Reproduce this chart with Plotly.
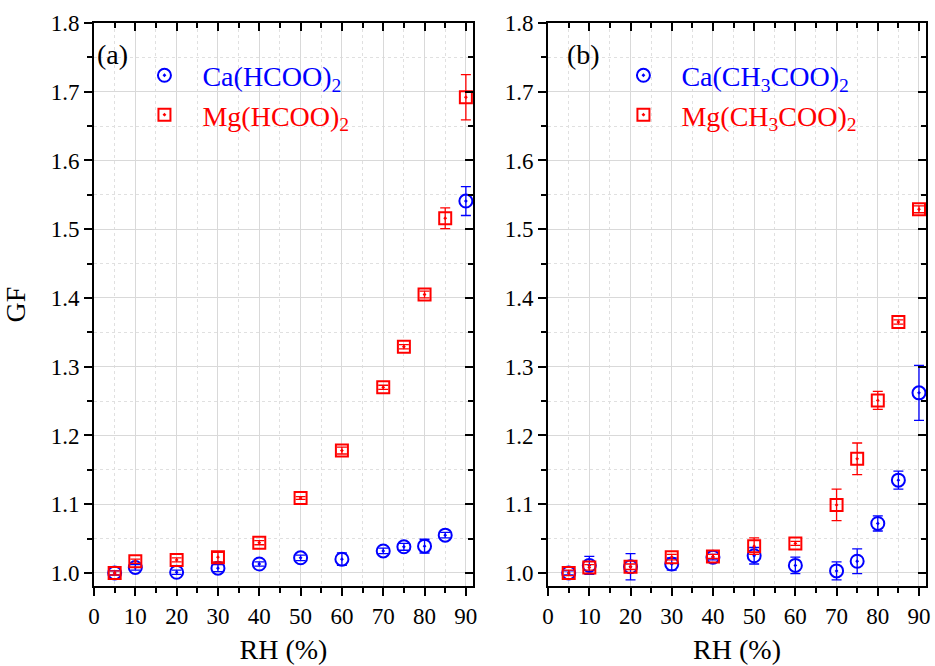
import plotly.graph_objects as go

# ---------------- data ----------------
rh = [5, 10, 20, 30, 40, 50, 60, 70, 75, 80, 85, 90]

# panel (a)
ca_hcoo = [1.000, 1.008, 1.001, 1.007, 1.013, 1.022, 1.020, 1.032, 1.038, 1.039, 1.055, 1.541]
ca_hcoo_err = [0.003, 0.004, 0.003, 0.005, 0.003, 0.004, 0.009, 0.004, 0.005, 0.010, 0.004, 0.021]
mg_hcoo = [1.000, 1.017, 1.019, 1.023, 1.044, 1.109, 1.178, 1.270, 1.329, 1.405, 1.516, 1.692]
mg_hcoo_err = [0.003, 0.003, 0.003, 0.007, 0.003, 0.002, 0.005, 0.003, 0.003, 0.005, 0.015, 0.033]

# panel (b)
ca_ac = [1.000, 1.011, 1.009, 1.013, 1.023, 1.025, 1.011, 1.003, 1.017, 1.072, 1.135, 1.262]
ca_ac_err = [0.003, 0.013, 0.019, 0.009, 0.004, 0.012, 0.012, 0.013, 0.018, 0.011, 0.013, 0.040]
mg_ac = [1.000, 1.008, 1.009, 1.023, 1.024, 1.039, 1.043, 1.099, 1.166, 1.251, 1.365, 1.529]
mg_ac_err = [0.004, 0.004, 0.004, 0.004, 0.003, 0.012, 0.003, 0.023, 0.023, 0.013, 0.003, 0.005]

x_ticks = [0, 10, 20, 30, 40, 50, 60, 70, 80, 90]
y_ticks = [1.0, 1.1, 1.2, 1.3, 1.4, 1.5, 1.6, 1.7, 1.8]
x_range = [0, 91.7]
y_range = [0.981, 1.8]

FONT = "Liberation Serif"
BLUE = "#0000ff"
RED = "#ff0000"

fig = go.Figure()


def add_series(x, y, err, name, color, symbol, size, xa, ya, legend):
    fig.add_trace(go.Scatter(
        x=x, y=y, mode="markers", name=name,
        xaxis=xa, yaxis=ya, legend=legend,
        marker=dict(symbol=symbol, size=size, color=color,
                    line=dict(color=color, width=2)),
        error_y=dict(type="data", array=err, visible=True, color=color,
                     thickness=1.3, width=5),
    ))


add_series(rh, ca_hcoo, ca_hcoo_err,
           '<span style="color:#0000ff">Ca(HCOO)<sub>2</sub></span>',
           BLUE, "circle-open-dot", 13, "x", "y", "legend")
add_series(rh, mg_hcoo, mg_hcoo_err,
           '<span style="color:#ff0000">Mg(HCOO)<sub>2</sub></span>',
           RED, "square-open-dot", 12, "x", "y", "legend")
add_series(rh, ca_ac, ca_ac_err,
           '<span style="color:#0000ff">Ca(CH<sub>3</sub>COO)<sub>2</sub></span>',
           BLUE, "circle-open-dot", 13, "x2", "y2", "legend2")
add_series(rh, mg_ac, mg_ac_err,
           '<span style="color:#ff0000">Mg(CH<sub>3</sub>COO)<sub>2</sub></span>',
           RED, "square-open-dot", 12, "x2", "y2", "legend2")

# invisible traces so that the mirror (inside-tick) axes render
for xa, ya in [("x3", "y3"), ("x4", "y4")]:
    fig.add_trace(go.Scatter(x=[None], y=[None], xaxis=xa, yaxis=ya,
                             showlegend=False, hoverinfo="skip"))

GRID = "#d9d9d9"
MINOR_GRID = "#e0e0e0"


def main_x(domain, anchor, title):
    return dict(
        domain=domain, anchor=anchor, range=x_range, tickvals=x_ticks,
        ticks="outside", ticklen=8, tickwidth=2, tickcolor="black",
        showline=True, linecolor="black", linewidth=2, mirror=True,
        showgrid=True, gridcolor=GRID, gridwidth=1, zeroline=False,
        minor=dict(dtick=5, tick0=0, ticks="outside", ticklen=5, tickwidth=1.5,
                   tickcolor="black", showgrid=True, gridcolor=MINOR_GRID,
                   griddash="dot", gridwidth=1),
        tickfont=dict(family=FONT, size=23, color="black"),
        title=dict(text=title, font=dict(family=FONT, size=28, color="black"),
                   standoff=12),
    )


def main_y(domain, anchor, title):
    return dict(
        domain=domain, anchor=anchor, range=y_range, tickvals=y_ticks,
        tickformat=".1f",
        ticks="outside", ticklen=8, tickwidth=2, tickcolor="black",
        showline=True, linecolor="black", linewidth=2, mirror=True,
        showgrid=True, gridcolor=GRID, gridwidth=1, zeroline=False,
        minor=dict(dtick=0.05, tick0=1.0, ticks="outside", ticklen=5, tickwidth=1.5,
                   tickcolor="black", showgrid=True, gridcolor=MINOR_GRID,
                   griddash="dot", gridwidth=1),
        tickfont=dict(family=FONT, size=23, color="black"),
        title=dict(text=title, font=dict(family=FONT, size=28, color="black"),
                   standoff=26),
    )


def top_x(overlay, anchor):
    return dict(overlaying=overlay, anchor=anchor, side="top", range=x_range,
                tickvals=x_ticks, ticks="inside", ticklen=8, tickwidth=2,
                tickcolor="black", showticklabels=False, showgrid=False,
                showline=False, zeroline=False,
                minor=dict(dtick=5, tick0=0, ticks="inside", ticklen=5,
                           tickwidth=1.5, tickcolor="black", showgrid=False))


def right_y(overlay, anchor):
    return dict(overlaying=overlay, anchor=anchor, side="right", range=y_range,
                tickvals=y_ticks, ticks="inside", ticklen=8, tickwidth=2,
                tickcolor="black", showticklabels=False, showgrid=False,
                showline=False, zeroline=False,
                minor=dict(dtick=0.05, tick0=1.0, ticks="inside", ticklen=5,
                           tickwidth=1.5, tickcolor="black", showgrid=False))


dom_a = [0.0, 0.4554]
dom_b = [0.5458, 1.0]

fig.update_layout(
    width=935, height=666,
    margin=dict(l=89, r=5, t=23, b=80),
    paper_bgcolor="white", plot_bgcolor="white",
    font=dict(family=FONT, size=23, color="black"),
    xaxis=main_x(dom_a, "y", "RH (%)"),
    yaxis=main_y([0, 1], "x", "GF"),
    xaxis2=main_x(dom_b, "y2", "RH (%)"),
    yaxis2=main_y([0, 1], "x2", ""),
    xaxis3=dict(top_x("x", "y3"), domain=dom_a),
    yaxis3=right_y("y", "x3"),
    xaxis4=dict(top_x("x2", "y4"), domain=dom_b),
    yaxis4=right_y("y2", "x4"),
    legend=dict(x=0.039, y=0.951, xanchor="left", yanchor="top",
                bgcolor="rgba(0,0,0,0)", borderwidth=0, itemwidth=66,
                font=dict(family=FONT, size=28), tracegroupgap=0),
    legend2=dict(x=0.6147, y=0.951, xanchor="left", yanchor="top",
                 bgcolor="rgba(0,0,0,0)", borderwidth=0, itemwidth=66,
                 font=dict(family=FONT, size=28), tracegroupgap=0),
    showlegend=True,
    annotations=[
        dict(text="(a)", xref="x domain", yref="y domain", x=0.002, y=0.975,
             xanchor="left", yanchor="top", showarrow=False,
             font=dict(family=FONT, size=28, color="black")),
        dict(text="(b)", xref="x2 domain", yref="y2 domain", x=0.046, y=0.975,
             xanchor="left", yanchor="top", showarrow=False,
             font=dict(family=FONT, size=28, color="black")),
    ],
)

fig.write_html("out.html", config={"displayModeBar": False},
               post_script="document.body.style.margin='0px';")
